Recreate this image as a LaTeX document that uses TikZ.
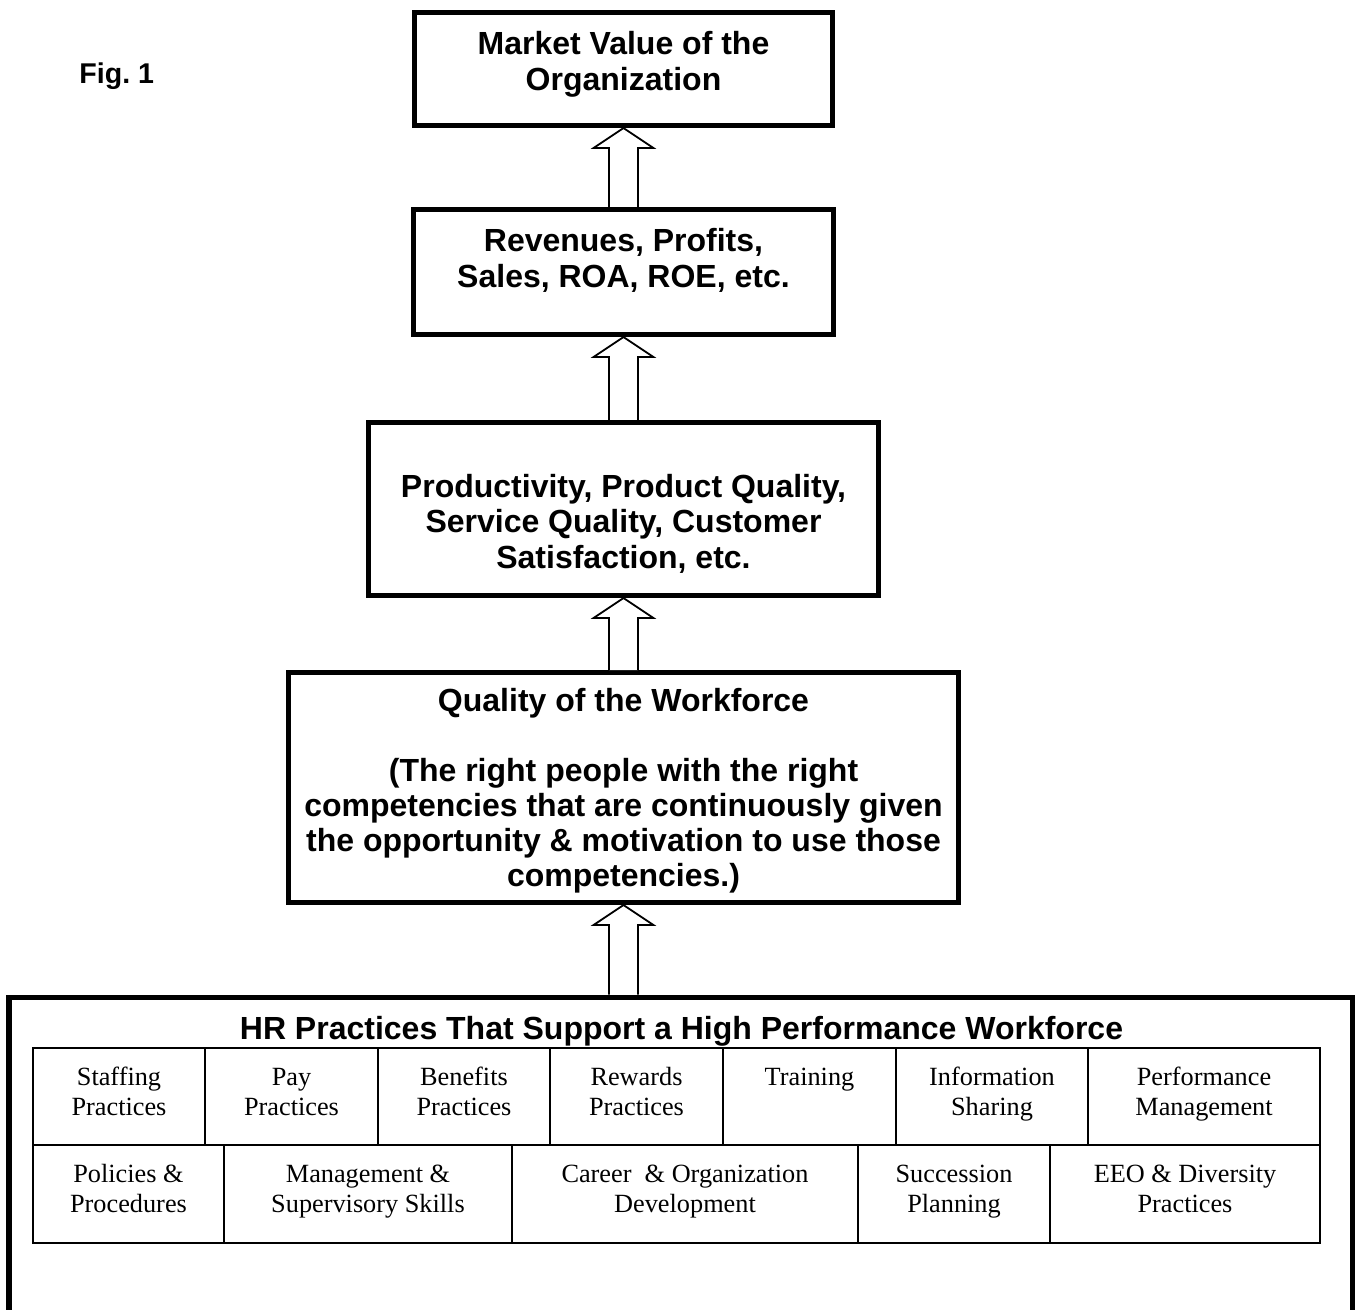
\documentclass[tikz,border=0pt]{standalone}
\usepackage{fontspec}
\setmainfont{Liberation Serif}
\newfontfamily\arialfont{Liberation Sans}
\usetikzlibrary{calc}

\newcommand{\pxu}{0.4375pt}

% hollow block arrow from the top of #1 up to the bottom of #2
\newcommand{\blockup}[2]{%
  \draw[uparrow] let \p1=(#1.north), \p2=(#2.south) in
    (\x2-6.34pt,\y1) -- (\x2-6.34pt,\y2-8.75pt) -- (\x2-13.1pt,\y2-8.75pt) -- (\x2,\y2)
    -- (\x2+13.1pt,\y2-8.75pt) -- (\x2+6.34pt,\y2-8.75pt) -- (\x2+6.34pt,\y1);}

\tikzset{
  block/.style={draw, line width=2.2pt, fill=white, inner sep=0pt},
  blocktext/.style={font=\arialfont\bfseries\fontsize{14pt}{15.6pt}\selectfont, align=center, inner sep=0pt, anchor=north},
  figtext/.style={font=\arialfont\bfseries\fontsize{12.5pt}{14pt}\selectfont, inner sep=0pt},
  cell/.style={draw, line width=0.9pt, inner sep=0pt},
  celltext/.style={font=\fontsize{11.5pt}{13.1pt}\selectfont, align=center, inner sep=0pt, anchor=north},
  uparrow/.style={line width=0.8pt, fill=white, draw},
}

\begin{document}
\begin{tikzpicture}[x=0.4375pt, y=-0.4375pt]
\useasboundingbox (0,0) rectangle (1359,1309);

\node[figtext, anchor=base west] (fig) at (79,83) {Fig.\ 1};

% outcome boxes
\node[block, minimum width=418*\pxu, minimum height=113*\pxu] (market) at (623.5,69) {};
\node[block, minimum width=420*\pxu, minimum height=125*\pxu] (revenue) at (623.5,272) {};
\node[block, minimum width=510*\pxu, minimum height=173*\pxu] (product) at (623.5,509) {};
\node[block, minimum width=670*\pxu, minimum height=230*\pxu] (quality) at (623.5,787.5) {};

\node[blocktext] (markettext) at (623.5,31) {Market Value of the\\Organization};
\node[blocktext] (revenuetext) at (623.5,228) {Revenues, Profits,\\Sales, ROA, ROE, etc.};
\node[blocktext] (producttext) at (623.5,473.5) {Productivity, Product Quality,\\Service Quality, Customer\\Satisfaction, etc.};
\node[blocktext, font=\arialfont\bfseries\fontsize{14pt}{15.3pt}\selectfont] (qualitytext) at (623.5,688) {Quality of the Workforce\\[15.3pt](The right people with the right\\competencies that are continuously given\\the opportunity \& motivation to use those\\competencies.)};

% HR practices frame
\node[block, minimum width=1343*\pxu, minimum height=403*\pxu] (hr) at (680.5,1198.5) {};
\node[blocktext, anchor=base] (hrtitle) at (681.5,1039) {HR Practices That Support a High Performance Workforce};

% first row of practices
\node[cell, minimum width=172*\pxu, minimum height=97*\pxu] (staff) at (119,1096.5) {};
\node[cell, minimum width=173*\pxu, minimum height=97*\pxu] (pay) at (291.5,1096.5) {};
\node[cell, minimum width=172*\pxu, minimum height=97*\pxu] (benefit) at (464,1096.5) {};
\node[cell, minimum width=173*\pxu, minimum height=97*\pxu] (reward) at (636.5,1096.5) {};
\node[cell, minimum width=173*\pxu, minimum height=97*\pxu] (train) at (809.5,1096.5) {};
\node[cell, minimum width=192*\pxu, minimum height=97*\pxu] (info) at (992,1096.5) {};
\node[cell, minimum width=232*\pxu, minimum height=97*\pxu] (perf) at (1204,1096.5) {};
\node[celltext] (stafftext) at (119,1066.5) {Staffing\\Practices};
\node[celltext] (paytext) at (291.5,1066.5) {Pay\vphantom{f}\\Practices};
\node[celltext] (benefittext) at (464,1066.5) {Benefits\\Practices};
\node[celltext] (rewardtext) at (636.5,1066.5) {Rewards\vphantom{f}\\Practices};
\node[celltext] (traintext) at (809.5,1066.5) {Training\vphantom{f}};
\node[celltext] (infotext) at (992,1066.5) {Information\\Sharing};
\node[celltext] (perftext) at (1204,1066.5) {Performance\\Management};

% second row of practices
\node[cell, minimum width=191*\pxu, minimum height=98*\pxu] (policy) at (128.5,1194) {};
\node[cell, minimum width=288*\pxu, minimum height=98*\pxu] (manage) at (368,1194) {};
\node[cell, minimum width=346*\pxu, minimum height=98*\pxu] (career) at (685,1194) {};
\node[cell, minimum width=192*\pxu, minimum height=98*\pxu] (success) at (954,1194) {};
\node[cell, minimum width=270*\pxu, minimum height=98*\pxu] (eeo) at (1185,1194) {};
\node[celltext] (policytext) at (128.5,1163.5) {Policies \&\\Procedures};
\node[celltext] (managetext) at (368,1163.5) {Management \&\vphantom{f}\\Supervisory Skills};
\node[celltext] (careertext) at (685,1163.5) {Career~ \& Organization\vphantom{f}\\Development};
\node[celltext] (successtext) at (954,1163.5) {Succession\vphantom{f}\\Planning};
\node[celltext] (eeotext) at (1185,1163.5) {EEO \& Diversity\vphantom{f}\\Practices};

% arrows
\blockup{revenue}{market}
\blockup{product}{revenue}
\blockup{quality}{product}
\blockup{hr}{quality}
\end{tikzpicture}
\end{document}
